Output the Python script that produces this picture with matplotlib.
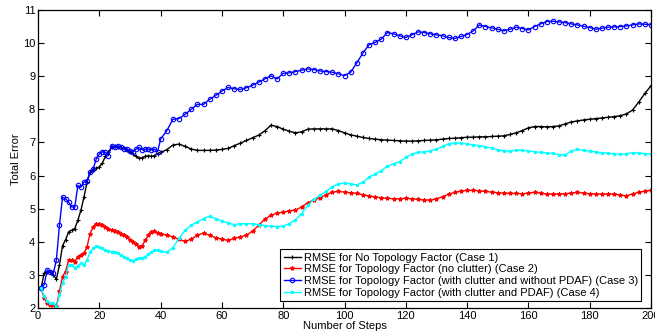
import numpy as np
import matplotlib
matplotlib.use("Agg")
import matplotlib.pyplot as plt

plt.rcParams['font.family'] = ['Liberation Sans', 'DejaVu Sans']

steps = list(range(1, 41)) + list(range(42, 201, 2))

case1 = [2.6, 3.05, 3.1, 3.1, 3.0, 2.87, 3.3, 3.88, 4.06, 4.3, 4.35, 4.4, 4.65, 4.95, 5.35, 5.8, 6.1, 6.18, 6.22, 6.26,
         6.38, 6.58, 6.72, 6.85, 6.88, 6.87, 6.85, 6.82, 6.78, 6.72, 6.65, 6.58, 6.52, 6.54, 6.58, 6.6, 6.58, 6.6, 6.66, 6.7,
         6.78, 6.92, 6.95, 6.88, 6.8, 6.76, 6.76, 6.76, 6.77, 6.79, 6.82, 6.9, 6.98, 7.06, 7.14, 7.22, 7.35, 7.52, 7.48, 7.4,
         7.34, 7.29, 7.32, 7.4, 7.41, 7.41, 7.41, 7.41, 7.36, 7.29, 7.23, 7.19, 7.15, 7.12, 7.1, 7.08, 7.07, 7.06, 7.05, 7.04,
         7.04, 7.05, 7.06, 7.07, 7.08, 7.1, 7.12, 7.13, 7.14, 7.16, 7.16, 7.17, 7.17, 7.18, 7.19, 7.2, 7.24, 7.29, 7.36, 7.44,
         7.48, 7.48, 7.47, 7.48, 7.5, 7.56, 7.62, 7.65, 7.68, 7.7, 7.72, 7.74, 7.76, 7.78, 7.81, 7.86, 7.98, 8.22, 8.48, 8.71]

case2 = [2.6, 2.3, 2.15, 2.1, 2.1, 2.05, 2.5, 2.95, 3.1, 3.45, 3.45, 3.4, 3.55, 3.6, 3.65, 3.85, 4.25, 4.45, 4.55, 4.55,
         4.5, 4.45, 4.4, 4.35, 4.32, 4.3, 4.25, 4.2, 4.15, 4.05, 4.0, 3.92, 3.85, 3.88, 4.05, 4.2, 4.3, 4.32, 4.28, 4.24,
         4.2, 4.15, 4.07, 4.01, 4.08, 4.2, 4.26, 4.2, 4.12, 4.08, 4.04, 4.1, 4.15, 4.2, 4.32, 4.5, 4.68, 4.8, 4.86, 4.9,
         4.93, 4.96, 5.05, 5.18, 5.26, 5.33, 5.42, 5.5, 5.52, 5.5, 5.48, 5.46, 5.42, 5.38, 5.35, 5.33, 5.31, 5.3, 5.3, 5.31,
         5.3, 5.28, 5.26, 5.26, 5.3, 5.36, 5.44, 5.49, 5.53, 5.55, 5.55, 5.54, 5.52, 5.5, 5.48, 5.47, 5.46, 5.46, 5.45, 5.47,
         5.49, 5.47, 5.44, 5.44, 5.44, 5.45, 5.47, 5.49, 5.47, 5.45, 5.44, 5.44, 5.44, 5.44, 5.41, 5.39, 5.44, 5.5, 5.53, 5.55]

case3 = [2.6, 2.7, 3.15, 3.1, 3.05, 3.45, 4.5, 5.35, 5.3, 5.2, 5.05, 5.05, 5.7, 5.65, 5.8, 5.85, 6.1, 6.2, 6.5, 6.65,
         6.72, 6.7, 6.6, 6.9, 6.85, 6.9, 6.85, 6.8, 6.8, 6.75, 6.72, 6.8, 6.85, 6.78, 6.8, 6.8, 6.78, 6.8, 6.72, 7.1,
         7.35, 7.7, 7.72, 7.85, 8.0, 8.15, 8.15, 8.3, 8.42, 8.55, 8.66, 8.62, 8.6, 8.65, 8.73, 8.82, 8.92, 9.01, 8.92, 9.09,
         9.1, 9.14, 9.18, 9.22, 9.2, 9.16, 9.14, 9.12, 9.07, 9.02, 9.12, 9.4, 9.7, 9.95, 10.02, 10.12, 10.32, 10.28, 10.22, 10.17,
         10.25, 10.34, 10.32, 10.28, 10.25, 10.22, 10.17, 10.14, 10.2, 10.26, 10.37, 10.55, 10.5, 10.46, 10.42, 10.37, 10.42, 10.48, 10.44, 10.4,
         10.5, 10.58, 10.65, 10.66, 10.64, 10.62, 10.58, 10.55, 10.51, 10.47, 10.42, 10.45, 10.48, 10.49, 10.5, 10.52, 10.55, 10.58, 10.57, 10.56]

case4 = [2.6, 2.35, 2.2, 2.15, 2.15, 2.02, 2.4, 2.75, 2.95, 3.3, 3.3, 3.2, 3.28, 3.35, 3.3, 3.45, 3.7, 3.8, 3.86, 3.85,
         3.8, 3.75, 3.72, 3.7, 3.7, 3.66, 3.6, 3.55, 3.5, 3.45, 3.42, 3.48, 3.52, 3.5, 3.55, 3.62, 3.68, 3.74, 3.76, 3.72,
         3.68, 3.82, 4.1, 4.35, 4.5, 4.6, 4.7, 4.77, 4.7, 4.63, 4.57, 4.52, 4.54, 4.55, 4.54, 4.52, 4.49, 4.47, 4.46, 4.47,
         4.55, 4.66, 4.85, 5.1, 5.28, 5.4, 5.52, 5.66, 5.75, 5.78, 5.75, 5.72, 5.8, 5.95, 6.05, 6.15, 6.28, 6.36, 6.42, 6.55,
         6.65, 6.7, 6.72, 6.75, 6.79, 6.88, 6.96, 6.99, 6.98, 6.95, 6.93, 6.9, 6.87, 6.83, 6.78, 6.74, 6.74, 6.77, 6.76, 6.74,
         6.72, 6.7, 6.68, 6.67, 6.63, 6.63, 6.74, 6.79, 6.76, 6.74, 6.71, 6.69, 6.67, 6.66, 6.64, 6.66, 6.69, 6.68, 6.66, 6.66]

labels = ["RMSE for No Topology Factor (Case 1)",
          "RMSE for Topology Factor (no clutter) (Case 2)",
          "RMSE for Topology Factor (with clutter and without PDAF) (Case 3)",
          "RMSE for Topology Factor (with clutter and PDAF) (Case 4)"]

xticks = list(range(0, 201, 20))
yticks = list(range(2, 12))

fig = plt.figure(figsize=(6.55, 3.35), dpi=100)
ax = fig.add_axes([38/655, 27/335, 613/655, 298/335])

ax.plot(steps, case1, color='black', lw=1.0, marker='+', ms=3, mew=0.8, label=labels[0])
ax.plot(steps, case2, color='red', lw=1.0, marker='*', ms=3, mew=0.8, label=labels[1])
ax.plot(steps, case3, color='blue', lw=1.0, marker='o', ms=3.2, mfc='none', mew=0.8, label=labels[2])
ax.plot(steps, case4, color='cyan', lw=1.0, marker='.', ms=3, label=labels[3])

ax.set_xlim(0, 200)
ax.set_ylim(2, 11)
ax.set_xticks(xticks)
ax.set_yticks(yticks)
ax.tick_params(direction='in', top=True, right=True, labelsize=8, length=4, width=0.8, pad=2)
for s in ax.spines.values():
    s.set_linewidth(0.9)

ax.set_xlabel("Number of Steps", fontsize=8, labelpad=0)
ax.set_ylabel("Total Error", fontsize=8, labelpad=1)

leg = ax.legend(loc='lower right', bbox_to_anchor=(0.984, 0.0235), borderaxespad=0,
                fontsize=8, handlelength=1.6, handletextpad=0.2, labelspacing=0.15,
                borderpad=0.3, fancybox=False, framealpha=1, edgecolor='black')
leg.get_frame().set_linewidth(0.8)

fig.savefig("out.png", dpi=100)
